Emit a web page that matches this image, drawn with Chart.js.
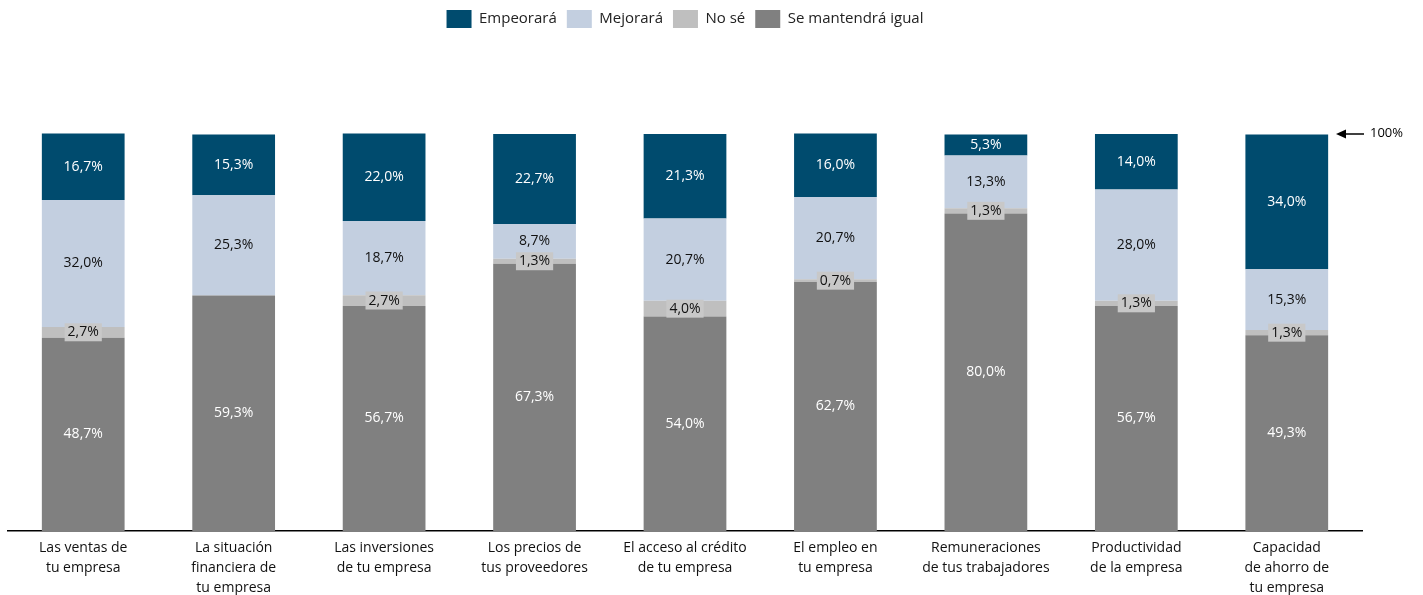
<!DOCTYPE html>
<html lang="es">
<head>
  <meta charset="UTF-8">
  <script src="https://cdn.jsdelivr.net/npm/chart.js@4"></script>
  <title>Expectativas</title>
  <style>
    body { margin: 0; background: #fff; }
  </style>
</head>
<body>
  <canvas id="expChart" width="1423" height="595"></canvas>
  <script>
    const categories = [
      ['Las ventas de', 'tu empresa'],
      ['La situación', 'financiera de', 'tu empresa'],
      ['Las inversiones', 'de tu empresa'],
      ['Los precios de', 'tus proveedores'],
      ['El acceso al crédito', 'de tu empresa'],
      ['El empleo en', 'tu empresa'],
      ['Remuneraciones', 'de tus trabajadores'],
      ['Productividad', 'de la empresa'],
      ['Capacidad', 'de ahorro de', 'tu empresa']
    ];
    const empeorara = [16.7, 15.3, 22.0, 22.7, 21.3, 16.0, 5.3, 14.0, 34.0];
    const mejorara = [32.0, 25.3, 18.7, 8.7, 20.7, 20.7, 13.3, 28.0, 15.3];
    const noSe = [2.7, 0, 2.7, 1.3, 4.0, 0.7, 1.3, 1.3, 1.3];
    const igual = [48.7, 59.3, 56.7, 67.3, 54.0, 62.7, 80.0, 56.7, 49.3];

    const FONT = "'Open Sans', sans-serif";

    // value labels in the middle of each segment
    const segmentLabels = {
      id: 'segmentLabels',
      afterDatasetsDraw(chart) {
        const ctx = chart.ctx;
        ctx.save();
        ctx.font = '14px ' + FONT;
        ctx.textAlign = 'center';
        ctx.textBaseline = 'middle';
        chart.data.datasets.forEach((ds, i) => {
          chart.getDatasetMeta(i).data.forEach((bar, j) => {
            const v = ds.data[j];
            if (!v) return;
            const txt = v.toFixed(1).replace('.', ',') + '%';
            const y = (bar.y + bar.base) / 2;
            if (ds.boxed) {
              const w = ctx.measureText(txt).width + 6;
              ctx.fillStyle = '#c8c8c8';
              ctx.fillRect(bar.x - w / 2, y - 9, w, 18);
            }
            ctx.fillStyle = ds.labelColor;
            ctx.fillText(txt, bar.x, y);
          });
        });
        ctx.restore();
      }
    };

    // arrow pointing at the 100% line
    const hundredMark = {
      id: 'hundredMark',
      afterDraw(chart) {
        const ctx = chart.ctx;
        const y = chart.scales.y.getPixelForValue(100);
        const x0 = 1336, x1 = 1364;
        ctx.save();
        ctx.strokeStyle = '#000';
        ctx.fillStyle = '#000';
        ctx.lineWidth = 1.5;
        ctx.beginPath();
        ctx.moveTo(x0 + 6, y);
        ctx.lineTo(x1, y);
        ctx.stroke();
        ctx.beginPath();
        ctx.moveTo(x0, y);
        ctx.lineTo(x0 + 10, y - 4.5);
        ctx.lineTo(x0 + 10, y + 4.5);
        ctx.closePath();
        ctx.fill();
        ctx.font = '13px ' + FONT;
        ctx.textBaseline = 'middle';
        ctx.fillText('100%', 1370, y - 1);
        ctx.restore();
      }
    };

    const legendGap = {
      id: 'legendGap',
      afterInit(chart) {
        const orig = chart.legend.fit;
        chart.legend.fit = function () {
          orig.call(this);
          this.height += 96;
        };
      }
    };

    new Chart(document.getElementById('expChart').getContext('2d'), {
      type: 'bar',
      data: {
        labels: categories,
        datasets: [
          { label: 'Se mantendrá igual', data: igual, backgroundColor: '#808080', labelColor: '#ffffff' },
          { label: 'No sé', data: noSe, backgroundColor: '#bfbfbf', labelColor: '#111111', boxed: true },
          { label: 'Mejorará', data: mejorara, backgroundColor: '#c3cfe0', labelColor: '#111111' },
          { label: 'Empeorará', data: empeorara, backgroundColor: '#004b6e', labelColor: '#ffffff' }
        ]
      },
      options: {
        responsive: false,
        animation: false,
        layout: { padding: { left: 8, right: 61, top: 0, bottom: -10 } },
        datasets: { bar: { barPercentage: 0.55, categoryPercentage: 1, clip: false } },
        plugins: {
          tooltip: { enabled: false },
          legend: {
            position: 'top',
            reverse: true,
            labels: {
              boxWidth: 25,
              boxHeight: 18,
              padding: 10,
              color: '#222',
              font: { family: FONT, size: 15 }
            }
          }
        },
        scales: {
          x: {
            stacked: true,
            grid: { display: false, drawTicks: false },
            border: { color: '#000', width: 1.5 },
            ticks: { color: '#111', padding: 7, maxRotation: 0, autoSkip: false, font: { family: FONT, size: 14, lineHeight: 1.43 } }
          },
          y: {
            stacked: true,
            min: 0,
            max: 100,
            display: false
          }
        }
      },
      plugins: [segmentLabels, hundredMark, legendGap]
    });
  </script>
</body>
</html>
